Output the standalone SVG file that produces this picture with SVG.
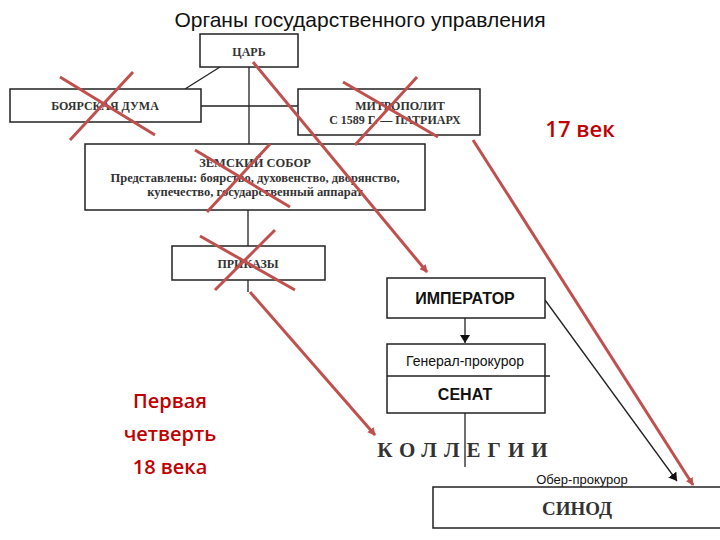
<svg xmlns="http://www.w3.org/2000/svg" width="720" height="540" viewBox="0 0 720 540">
<style>
.b{fill:#fff;stroke:#222;stroke-width:1.5}
.t{font-family:"Liberation Serif",serif;font-weight:bold;fill:#333;text-anchor:middle}
.s{font-family:"Liberation Sans",sans-serif;text-anchor:middle;fill:#111}
.l{stroke:#222;stroke-width:1.3;fill:none}
.x{stroke:#c0504d;stroke-width:3;fill:none}
.r{font-family:"Open Sans","Liberation Sans",sans-serif;font-weight:600;fill:#c00000;text-anchor:middle}
</style>
<defs>
<marker id="ra" markerWidth="8" markerHeight="8" refX="7" refY="4" orient="auto" markerUnits="userSpaceOnUse" viewBox="0 0 8 8"><path d="M0,0 L8,4 L0,8 z" fill="#c0504d"/></marker>
<marker id="ka" markerWidth="8" markerHeight="10" refX="8" refY="5" orient="auto" markerUnits="userSpaceOnUse" viewBox="0 0 8 10"><path d="M0,0 L8,5 L0,10 z" fill="#111"/></marker>
</defs>
<rect width="720" height="540" fill="#fff"/>
<text class="s" x="360" y="27" font-size="21">Органы государственного управления</text>
<g id="connectors">
<path class="l" d="M220,67 L185,89 M249,67 V145 M201,106 H298 M248,210 V246 M248,280 V292"/>
<path class="l" d="M465,318 V343" marker-end="url(#ka)"/>
<path class="l" d="M465,413 V467"/>
<path class="l" d="M545,300 L677,481" marker-end="url(#ka)"/>
</g>
<g id="tsar"><rect class="b" x="200" y="34" width="98" height="33"/><text class="t" x="249" y="56" font-size="12">ЦАРЬ</text></g>
<g id="duma"><rect class="b" x="10" y="89" width="191" height="33"/><text class="t" x="105" y="110" font-size="12">БОЯРСКАЯ ДУМА</text></g>
<g id="metropolitan"><rect class="b" x="298" y="89" width="182" height="46"/><text class="t" x="400" y="110" font-size="12">МИТРОПОЛИТ</text><text class="t" x="395" y="124" font-size="12">С 1589 Г. — ПАТРИАРХ</text></g>
<g id="sobor"><rect class="b" x="85" y="144" width="340" height="66"/><text class="t" x="255" y="167" font-size="12.5" font-weight="normal">ЗЕМСКИЙ СОБОР</text><text class="t" x="255" y="182" font-size="12.5" font-weight="normal">Представлены: боярство, духовенство, дворянство,</text><text class="t" x="255" y="196" font-size="12.5" font-weight="normal">купечество, государственный аппарат</text></g>
<g id="prikazy"><rect class="b" x="172" y="246" width="153" height="34"/><text class="t" x="248" y="268" font-size="12">ПРИКАЗЫ</text></g>
<g id="emperor"><rect class="b" x="387" y="278" width="158" height="40"/><text class="s" x="465" y="304" font-size="16" font-weight="bold">ИМПЕРАТОР</text></g>
<g id="senate"><rect class="b" x="387" y="344" width="158" height="69"/><line class="l" x1="387" y1="376" x2="550" y2="376"/><text class="s" x="465" y="366" font-size="14">Генерал-прокурор</text><text class="s" x="465" y="400" font-size="16" font-weight="bold">СЕНАТ</text></g>
<g id="collegia"><text class="t" x="466" y="457" font-size="21" fill="#111" letter-spacing="7">КОЛЛЕГИИ</text></g>
<g id="synod"><text class="s" x="582" y="484" font-size="13">Обер-прокурор</text><rect class="b" x="433" y="487" width="300" height="41"/><text class="t" x="577" y="515" font-size="19" fill="#111">СИНОД</text></g>
<g id="redmarks">
<path class="x" d="M60,77 L155,135 M70,140 L133,72 M343,82 L438,137 M355,145 L417,77 M195,150 L290,207 M207,212 L270,144 M200,236 L295,290 M215,290 L275,230"/>
<path class="x" d="M253,62 L427,272" marker-end="url(#ra)"/>
<path class="x" d="M250,292 L375,435" marker-end="url(#ra)"/>
<path class="x" d="M473,140 L693,485" marker-end="url(#ra)"/>
</g>
<text class="r" x="580" y="137" font-size="22">17 век</text>
<text class="r" x="170" y="408" font-size="20">Первая</text>
<text class="r" x="170" y="441" font-size="20">четверть</text>
<text class="r" x="170" y="474" font-size="20">18 века</text>
</svg>
